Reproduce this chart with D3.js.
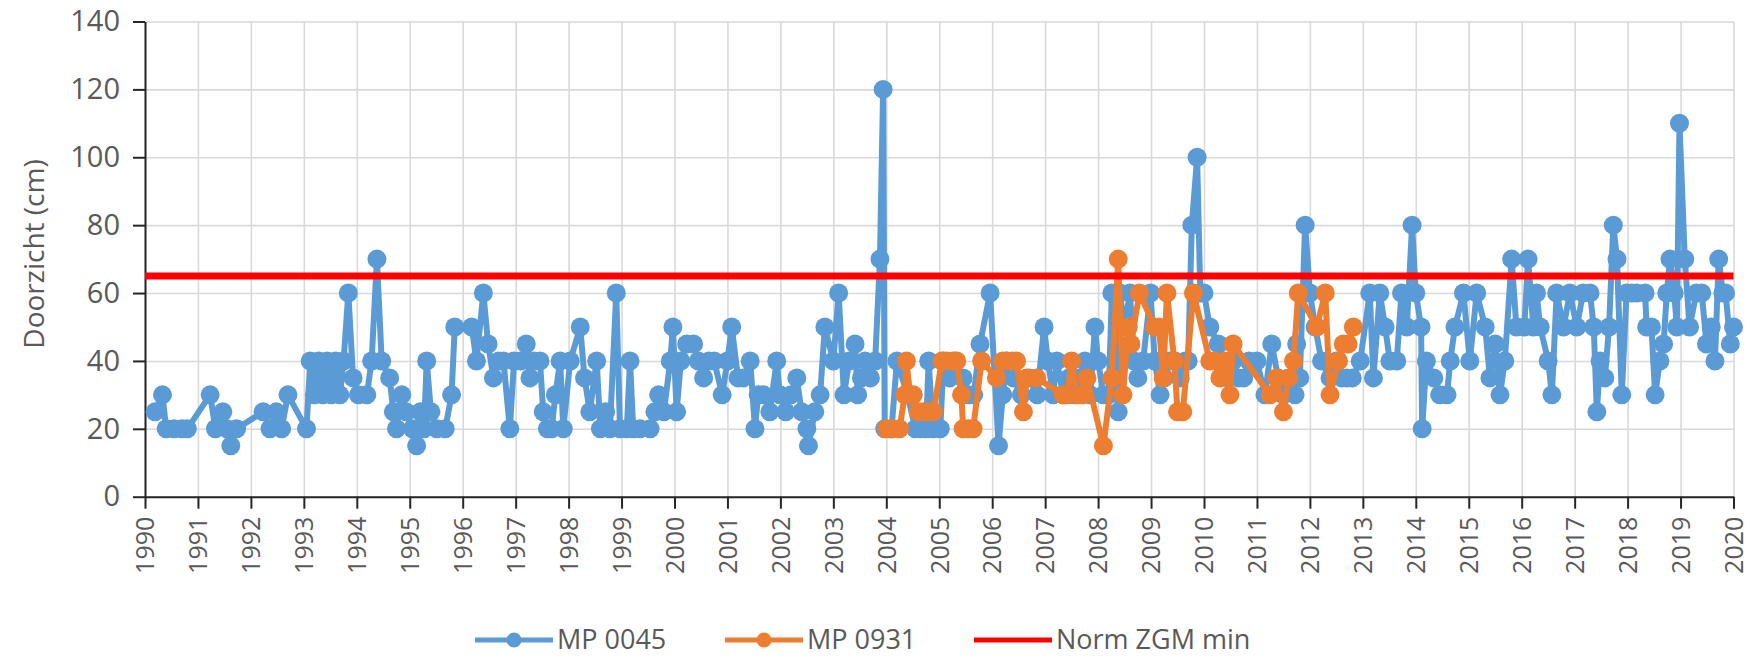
<!DOCTYPE html>
<html>
<head>
<meta charset="utf-8">
<script src="https://cdn.jsdelivr.net/npm/d3@7"></script>
<style>
  body { margin: 0; background: #fff; }
  text { font-family: "Open Sans", sans-serif; fill: #595959; }
</style>
</head>
<body>
<div id="chart"></div>
<script>
// Data (decimal year, doorzicht in cm)
var mp0045Year = [
  1990.19, 1990.33, 1990.40, 1990.55, 1990.70, 1990.80, 1991.23, 1991.33, 1991.47, 1991.55,
  1991.62, 1991.73, 1992.23, 1992.36, 1992.48, 1992.58, 1992.70, 1993.05, 1993.12, 1993.20,
  1993.28, 1993.36, 1993.44, 1993.52, 1993.60, 1993.68, 1993.75, 1993.84, 1993.93, 1994.03,
  1994.19, 1994.28, 1994.38, 1994.47, 1994.62, 1994.69, 1994.75, 1994.85, 1994.93, 1995.05,
  1995.13, 1995.20, 1995.27, 1995.32, 1995.40, 1995.51, 1995.67, 1995.79, 1995.85, 1996.17,
  1996.26, 1996.39, 1996.48, 1996.58, 1996.68, 1996.77, 1996.89, 1996.97, 1997.10, 1997.20,
  1997.27, 1997.35, 1997.46, 1997.52, 1997.60, 1997.68, 1997.75, 1997.84, 1997.90, 1998.03,
  1998.22, 1998.30, 1998.40, 1998.53, 1998.60, 1998.70, 1998.78, 1998.90, 1998.97, 1999.10,
  1999.16, 1999.22, 1999.35, 1999.54, 1999.63, 1999.70, 1999.80, 1999.92, 1999.97, 2000.04,
  2000.12, 2000.23, 2000.36, 2000.45, 2000.55, 2000.65, 2000.75, 2000.90, 2001.00, 2001.08,
  2001.20, 2001.30, 2001.43, 2001.52, 2001.58, 2001.68, 2001.80, 2001.93, 2001.99, 2002.10,
  2002.20, 2002.31, 2002.40, 2002.50, 2002.53, 2002.65, 2002.75, 2002.84, 2003.00, 2003.10,
  2003.20, 2003.30, 2003.41, 2003.46, 2003.53, 2003.60, 2003.70, 2003.79, 2003.88, 2003.94,
  2003.97, 2004.10, 2004.20, 2004.40, 2004.55, 2004.65, 2004.75, 2004.80, 2004.88, 2005.02,
  2005.08, 2005.20, 2005.30, 2005.45, 2005.55, 2005.65, 2005.77, 2005.96, 2006.12, 2006.20,
  2006.27, 2006.40, 2006.55, 2006.70, 2006.85, 2006.98, 2007.05, 2007.15, 2007.22, 2007.34,
  2007.45, 2007.55, 2007.65, 2007.75, 2007.85, 2007.94, 2008.00, 2008.10, 2008.20, 2008.26,
  2008.33, 2008.38, 2008.41, 2008.50, 2008.60, 2008.68, 2008.75, 2008.85, 2008.99, 2009.07,
  2009.17, 2009.25, 2009.35, 2009.45, 2009.55, 2009.65, 2009.70, 2009.77, 2009.87, 2009.93,
  2010.00, 2010.11, 2010.27, 2010.35, 2010.45, 2010.55, 2010.65, 2010.75, 2010.85, 2011.00,
  2011.15, 2011.28, 2011.40, 2011.50, 2011.60, 2011.72, 2011.75, 2011.81, 2011.91, 2012.00,
  2012.10, 2012.22, 2012.38, 2012.50, 2012.60, 2012.70, 2012.80, 2012.95, 2013.13, 2013.20,
  2013.32, 2013.42, 2013.51, 2013.64, 2013.73, 2013.83, 2013.93, 2014.00, 2014.10, 2014.12,
  2014.20, 2014.34, 2014.45, 2014.59, 2014.65, 2014.74, 2014.90, 2015.02, 2015.15, 2015.31,
  2015.40, 2015.50, 2015.59, 2015.68, 2015.81, 2015.90, 2016.05, 2016.12, 2016.22, 2016.28,
  2016.35, 2016.50, 2016.57, 2016.66, 2016.79, 2016.91, 2017.04, 2017.16, 2017.29, 2017.36,
  2017.42, 2017.48, 2017.57, 2017.65, 2017.73, 2017.80, 2017.89, 2017.98, 2018.08, 2018.17,
  2018.33, 2018.36, 2018.45, 2018.52, 2018.61, 2018.68, 2018.74, 2018.80, 2018.88, 2018.93,
  2018.98, 2019.08, 2019.17, 2019.30, 2019.40, 2019.49, 2019.58, 2019.65, 2019.72, 2019.80,
  2019.85, 2019.94, 2020.00
];
var mp0045Value = [
  25, 30, 20, 20, 20, 20, 30, 20, 25, 20,
  15, 20, 25, 20, 25, 20, 30, 20, 40, 30,
  40, 30, 40, 30, 40, 30, 40, 60, 35, 30,
  30, 40, 70, 40, 35, 25, 20, 30, 25, 20,
  15, 25, 20, 40, 25, 20, 20, 30, 50, 50,
  40, 60, 45, 35, 40, 40, 20, 40, 40, 45,
  35, 40, 40, 25, 20, 20, 30, 40, 20, 40,
  50, 35, 25, 40, 20, 25, 20, 60, 20, 20,
  40, 20, 20, 20, 25, 30, 25, 40, 50, 25,
  40, 45, 45, 40, 35, 40, 40, 30, 40, 50,
  35, 35, 40, 20, 30, 30, 25, 40, 30, 25,
  30, 35, 25, 20, 15, 25, 30, 50, 40, 60,
  30, 40, 45, 30, 35, 40, 35, 40, 70, 120,
  20, 20, 40, 30, 20, 20, 20, 40, 20, 20,
  40, 35, 40, 35, 30, 30, 45, 60, 15, 30,
  40, 35, 30, 35, 30, 50, 40, 30, 40, 30,
  35, 30, 35, 40, 30, 50, 40, 30, 30, 60,
  35, 25, 60, 50, 60, 40, 35, 40, 60, 40,
  30, 35, 40, 40, 35, 40, 40, 80, 100, 60,
  60, 50, 45, 40, 35, 40, 35, 35, 40, 40,
  30, 45, 35, 30, 35, 30, 45, 35, 80, 60,
  50, 40, 35, 40, 35, 35, 35, 40, 60, 35,
  60, 50, 40, 40, 60, 50, 80, 60, 50, 20,
  40, 35, 30, 30, 40, 50, 60, 40, 60, 50,
  35, 45, 30, 40, 70, 50, 50, 70, 50, 60,
  50, 40, 30, 60, 50, 60, 50, 60, 60, 50,
  25, 40, 35, 50, 80, 70, 30, 60, 60, 60,
  60, 50, 50, 30, 40, 45, 60, 70, 60, 50,
  110, 70, 50, 60, 60, 45, 50, 40, 70, 60,
  60, 45, 50
];

var mp0931Year = [
  2004.00, 2004.10, 2004.25, 2004.35, 2004.38, 2004.45, 2004.51, 2004.60, 2004.70, 2004.79,
  2004.89, 2005.05, 2005.14, 2005.25, 2005.33, 2005.42, 2005.45, 2005.55, 2005.64, 2005.80,
  2006.08, 2006.20, 2006.27, 2006.38, 2006.46, 2006.59, 2006.65, 2006.84, 2007.34, 2007.42,
  2007.50, 2007.60, 2007.70, 2007.79, 2008.10, 2008.26, 2008.38, 2008.47, 2008.57, 2008.62,
  2008.78, 2009.07, 2009.15, 2009.23, 2009.30, 2009.44, 2009.50, 2009.60, 2009.80, 2010.11,
  2010.20, 2010.30, 2010.40, 2010.49, 2010.55, 2011.25, 2011.37, 2011.50, 2011.60, 2011.69,
  2011.78, 2012.13, 2012.29, 2012.38, 2012.54, 2012.63, 2012.72, 2012.82
];
var mp0931Value = [
  20, 20, 20, 30, 40, 30, 30, 25, 25, 25,
  25, 40, 40, 40, 40, 30, 20, 20, 20, 40,
  35, 40, 40, 40, 40, 25, 35, 35, 30, 30,
  40, 30, 30, 35, 15, 35, 70, 30, 50, 45,
  60, 50, 50, 35, 60, 40, 25, 25, 60, 40,
  40, 35, 40, 30, 45, 30, 35, 25, 35, 40,
  60, 50, 60, 30, 40, 45, 45, 50
];

var normValue = 65;
var xDomain = [1990, 2020];
var xTicks = d3.range(1990, 2021);
var yTicks = [0, 20, 40, 60, 80, 100, 120, 140];
var legendLabels = ['MP 0045', 'MP 0931', 'Norm ZGM min'];
var colors = ['#5b9bd5', '#ed7d31', '#ff0000'];

// Chart space
var W = 1750, H = 660;
var margin = {top: 21.5, right: 16.5, bottom: 163.3, left: 145},
    width = W - margin.left - margin.right,
    height = H - margin.top - margin.bottom;

var svg = d3.select('#chart').append('svg')
    .attr('width', W)
    .attr('height', H);
var g = svg.append('g')
    .attr('transform', 'translate(' + margin.left + ',' + margin.top + ')');

var x = d3.scaleLinear().domain(xDomain).range([0, width]);
var y = d3.scaleLinear().domain([0, 140]).range([height, 0]);

// Gridlines
g.append('g')
    .attr('transform', 'translate(0,' + height + ')')
    .call(d3.axisBottom(x).tickValues(xTicks).tickSize(-height).tickFormat(''))
    .call(function(s) {
        s.select('.domain').remove();
        s.selectAll('line').attr('stroke', '#d9d9d9').attr('stroke-width', 1.6);
    });
g.append('g')
    .call(d3.axisLeft(y).tickValues(yTicks).tickSize(-width).tickFormat(''))
    .call(function(s) {
        s.select('.domain').remove();
        s.selectAll('line').attr('stroke', '#d9d9d9').attr('stroke-width', 1.6);
    });

// Axes
var xAxis = g.append('g')
    .attr('transform', 'translate(0,' + height + ')')
    .call(d3.axisBottom(x).tickValues(xTicks).tickFormat(d3.format('d')).tickSize(12).tickSizeOuter(0));
xAxis.selectAll('text')
    .attr('font-size', '25px')
    .attr('text-anchor', 'end')
    .attr('transform', 'rotate(-90)')
    .attr('x', -20)
    .attr('y', 0)
    .attr('dy', '0.35em');

var yAxis = g.append('g')
    .call(d3.axisLeft(y).tickValues(yTicks).tickSize(12).tickSizeOuter(0).tickPadding(13));
yAxis.selectAll('text').attr('font-size', '29px');

[xAxis, yAxis].forEach(function(a) {
    a.select('.domain').attr('stroke', '#262626').attr('stroke-width', 2);
    a.selectAll('.tick line').attr('stroke', '#262626').attr('stroke-width', 2);
    a.selectAll('text').style('fill', '#595959').attr('font-family', '"Open Sans", sans-serif');
});

// Y title
svg.append('text')
    .attr('transform', 'translate(34,254)rotate(-90)')
    .attr('text-anchor', 'middle')
    .attr('dy', '0.35em')
    .attr('font-size', '28px')
    .text('Doorzicht (cm)');

// Series
var line = d3.line()
    .x(function(d) { return x(d[0]); })
    .y(function(d) { return y(d[1]); });

function drawSeries(years, values, color) {
    var pts = years.map(function(yr, i) { return [yr, values[i]]; });
    var s = g.append('g');
    s.append('path')
        .datum(pts)
        .attr('d', line)
        .attr('fill', 'none')
        .attr('stroke', color)
        .attr('stroke-width', 6)
        .attr('stroke-linejoin', 'round');
    s.selectAll('circle')
        .data(pts)
        .enter()
        .append('circle')
        .attr('cx', function(d) { return x(d[0]); })
        .attr('cy', function(d) { return y(d[1]); })
        .attr('r', 9.5)
        .attr('fill', color);
}
drawSeries(mp0045Year, mp0045Value, colors[0]);
drawSeries(mp0931Year, mp0931Value, colors[1]);

// Norm line
g.append('line')
    .attr('x1', x(xDomain[0]))
    .attr('x2', x(xDomain[1]))
    .attr('y1', y(normValue))
    .attr('y2', y(normValue))
    .attr('stroke', colors[2])
    .attr('stroke-width', 7);

// Legend
var legendX = [475, 725, 974];
var legendY = 640;
var legend = svg.append('g');
legendLabels.forEach(function(lbl, i) {
    legend.append('line')
        .attr('x1', legendX[i])
        .attr('x2', legendX[i] + 78)
        .attr('y1', legendY)
        .attr('y2', legendY)
        .attr('stroke', colors[i])
        .attr('stroke-width', 5);
    if (i < 2) {
        legend.append('circle')
            .attr('cx', legendX[i] + 39)
            .attr('cy', legendY)
            .attr('r', 7.5)
            .attr('fill', colors[i]);
    }
    legend.append('text')
        .attr('x', legendX[i] + 82)
        .attr('y', legendY)
        .attr('dy', '0.35em')
        .attr('font-size', '27px')
        .text(lbl);
});
</script>
</body>
</html>
